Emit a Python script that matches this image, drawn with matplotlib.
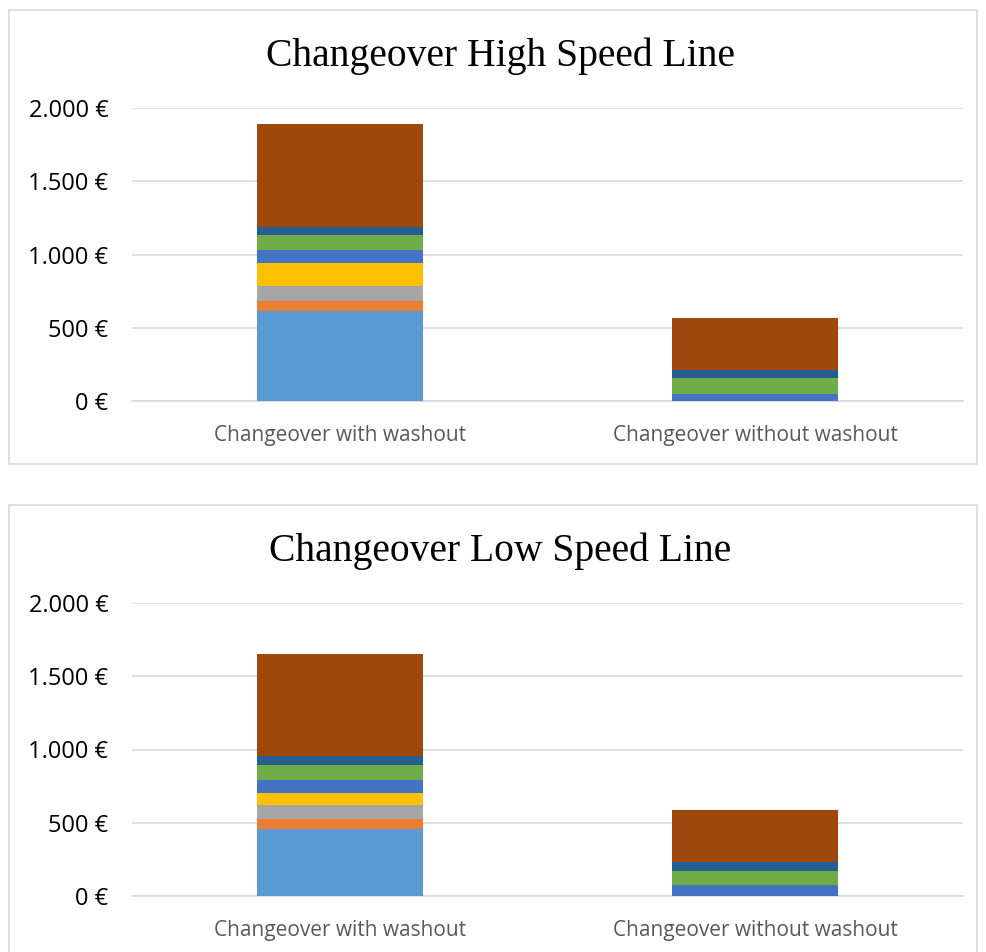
import numpy as np
import matplotlib.pyplot as plt
from matplotlib.ticker import FuncFormatter
from matplotlib.patches import Rectangle

# categories
categories = ["Changeover with washout", "Changeover without washout"]

# segment colours, bottom to top (Excel palette)
colors = ["#5B9BD5", "#ED7D31", "#A5A5A5", "#FFC000",
          "#4472C4", "#70AD47", "#255E91", "#9E480E"]

# High speed line, one list per segment: [with washout, without washout]
hs_seg1 = [614, 0]
hs_seg2 = [68, 0]
hs_seg3 = [105, 0]
hs_seg4 = [153, 0]
hs_seg5 = [89, 50]
hs_seg6 = [102, 107]
hs_seg7 = [55, 57]
hs_seg8 = [703, 351]

# Low speed line
ls_seg1 = [457, 0]
ls_seg2 = [68, 0]
ls_seg3 = [96, 0]
ls_seg4 = [82, 0]
ls_seg5 = [87, 73]
ls_seg6 = [104, 100]
ls_seg7 = [59, 61]
ls_seg8 = [696, 351]

high_speed = [hs_seg1, hs_seg2, hs_seg3, hs_seg4, hs_seg5, hs_seg6, hs_seg7, hs_seg8]
low_speed = [ls_seg1, ls_seg2, ls_seg3, ls_seg4, ls_seg5, ls_seg6, ls_seg7, ls_seg8]

W, H = 987, 952
fig = plt.figure(figsize=(W / 100, H / 100), dpi=100)

def euro(v, pos):
    return "{:,.0f} €".format(v).replace(",", ".")

def draw(ax_rect, box_rect, title_y, title, segs):
    # chart border
    x0, y0, x1, y1 = box_rect
    fig.patches.append(Rectangle((x0 / W, 1 - y1 / H), (x1 - x0) / W, (y1 - y0) / H,
                                 transform=fig.transFigure, fill=False,
                                 edgecolor="#D9D9D9", linewidth=1.2))
    ax = fig.add_axes(ax_rect)
    x = np.arange(len(categories))
    bottom = np.zeros(len(categories))
    for vals, c in zip(segs, colors):
        vals = np.array(vals, dtype=float)
        ax.bar(x, vals, 0.4, bottom=bottom, color=c, zorder=3)
        bottom += vals
    ax.set_xlim(-0.5, 1.5)
    ax.set_ylim(0, 2000)
    ax.set_yticks([0, 500, 1000, 1500, 2000])
    ax.yaxis.set_major_formatter(FuncFormatter(euro))
    ax.grid(axis="y", color="#D9D9D9", linewidth=1.2, zorder=0)
    for s in ["top", "right", "left"]:
        ax.spines[s].set_visible(False)
    ax.spines["bottom"].set_color("#D9D9D9")
    ax.spines["bottom"].set_linewidth(1.2)
    ax.set_xticks(x)
    ax.set_xticklabels(categories, fontsize=15, color="#595959", family="Open Sans")
    ax.tick_params(axis="both", length=0)
    ax.tick_params(axis="x", pad=17)
    ax.tick_params(axis="y", pad=17, labelsize=17, labelcolor="#000000")
    for lab in ax.get_yticklabels():
        lab.set_family("Open Sans")
    fig.text(0.507, 1 - title_y / H, title, fontsize=28.5, family="Liberation Serif",
             ha="center", va="center", color="#000000")
    return ax

draw([132 / W, 1 - 401 / H, (963 - 132) / W, 293 / H], (9, 10, 977, 464), 56,
     "Changeover High Speed Line", high_speed)
draw([132 / W, 1 - 896 / H, (963 - 132) / W, 293 / H], (9, 505, 977, 960), 551,
     "Changeover Low Speed Line", low_speed)

fig.savefig("out.png", dpi=100)
